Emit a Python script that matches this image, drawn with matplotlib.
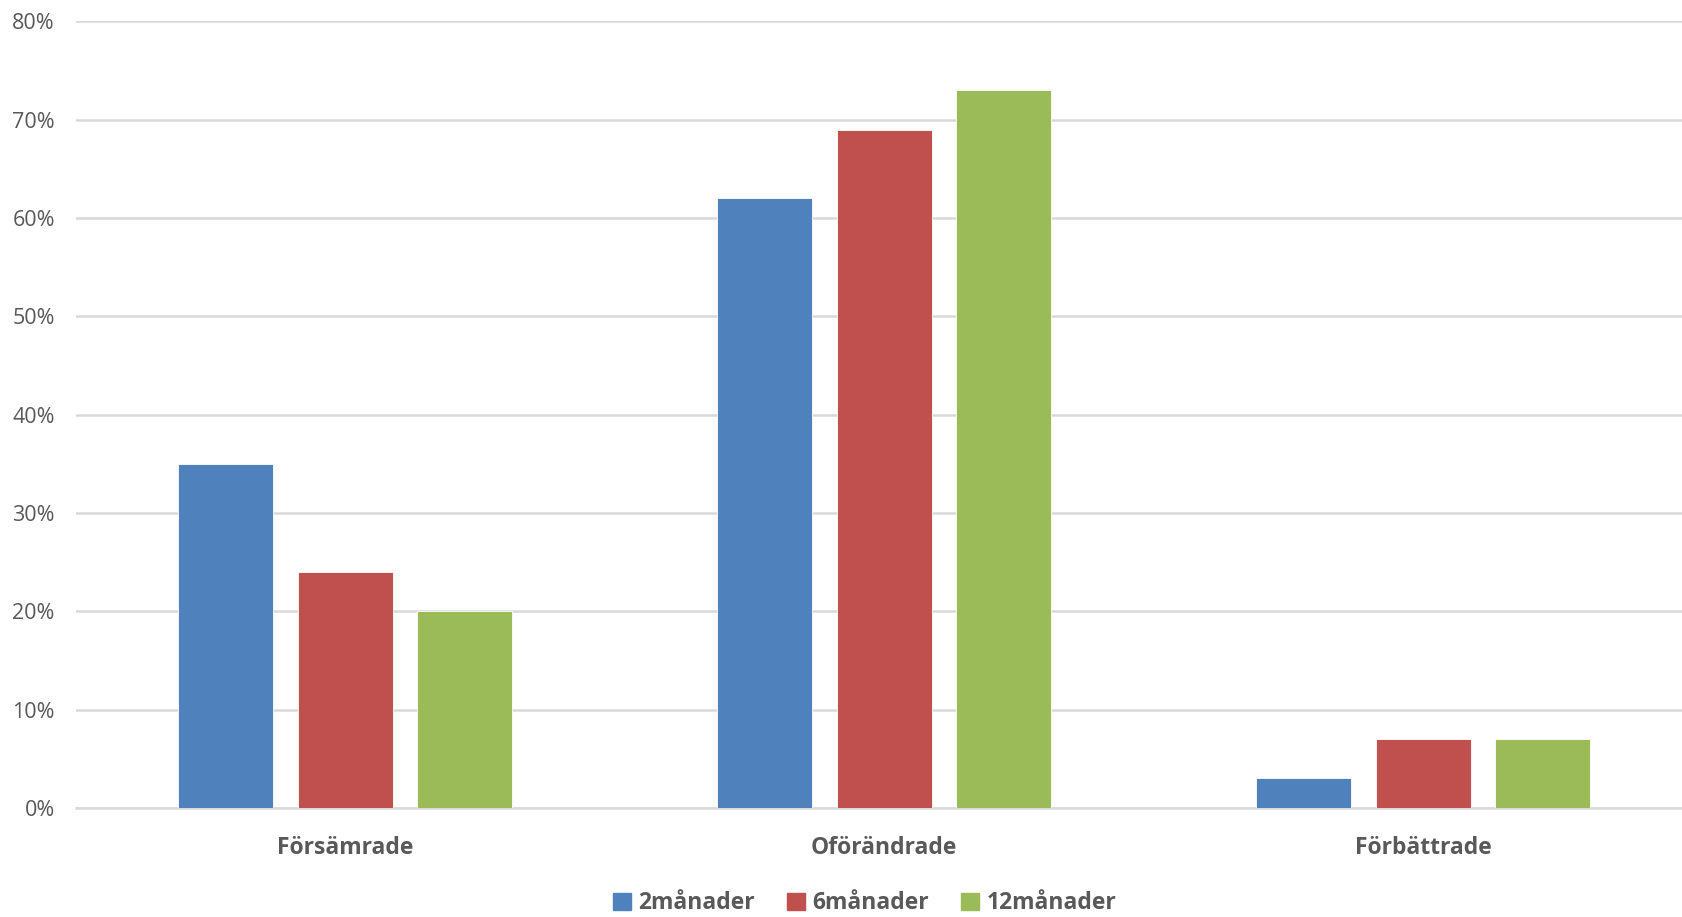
import matplotlib
matplotlib.use("Agg")
import matplotlib.pyplot as plt
import matplotlib.patches as mpatches
import numpy as np
from matplotlib.ticker import PercentFormatter

categories = ["Försämrade", "Oförändrade", "Förbättrade"]
series_names = ["2månader", "6månader", "12månader"]
vals_2m = [35, 62, 3]
vals_6m = [24, 69, 7]
vals_12m = [20, 73, 7]
yticks = [0, 10, 20, 30, 40, 50, 60, 70, 80]

COLORS = ["#4F81BD", "#C0504D", "#9BBB59"]
TEXT = "#595959"
GRID = "#D9D9D9"

plt.rcParams["font.family"] = ["Open Sans", "DejaVu Sans"]

fig = plt.figure(figsize=(16.82, 9.17), dpi=100)
# axes runs slightly past the right edge, like the original export
ax = fig.add_axes([0.045, 0.119, 0.9613, 0.8576])

x = np.arange(len(categories))
width = 0.176
step = 0.222
for i, (vals, color) in enumerate(zip([vals_2m, vals_6m, vals_12m], COLORS)):
    ax.bar(x + (i - 1) * step, vals, width=width, color=color, zorder=3,
           edgecolor="white", linewidth=0.6)

ax.set_xlim(-0.5, 2.5)
ax.set_ylim(0, 80)
ax.set_yticks(yticks)
ax.yaxis.set_major_formatter(PercentFormatter(decimals=0))
ax.set_xticks(x)
ax.set_xticklabels(categories, fontsize=16.5, fontweight="bold", color=TEXT)
ax.tick_params(axis="y", labelsize=15.5, colors=TEXT, length=0, pad=15)
ax.tick_params(axis="x", length=0, pad=20)
ax.grid(axis="y", color=GRID, linewidth=1.8, zorder=0)
ax.set_axisbelow(True)
for s in ["top", "right", "left"]:
    ax.spines[s].set_visible(False)
ax.spines["bottom"].set_color(GRID)
ax.spines["bottom"].set_linewidth(1.8)

handles = [mpatches.Patch(color=c, label=n) for c, n in zip(COLORS, series_names)]
leg = fig.legend(handles=handles, loc="center", bbox_to_anchor=(0.514, 0.015),
                 ncol=3, frameon=False, prop={"size": 16.5, "weight": "bold"},
                 handlelength=0.8, handleheight=0.8, handletextpad=0.3,
                 columnspacing=1.4)
for t in leg.get_texts():
    t.set_color(TEXT)

fig.savefig("out.png", dpi=100, facecolor="white")
